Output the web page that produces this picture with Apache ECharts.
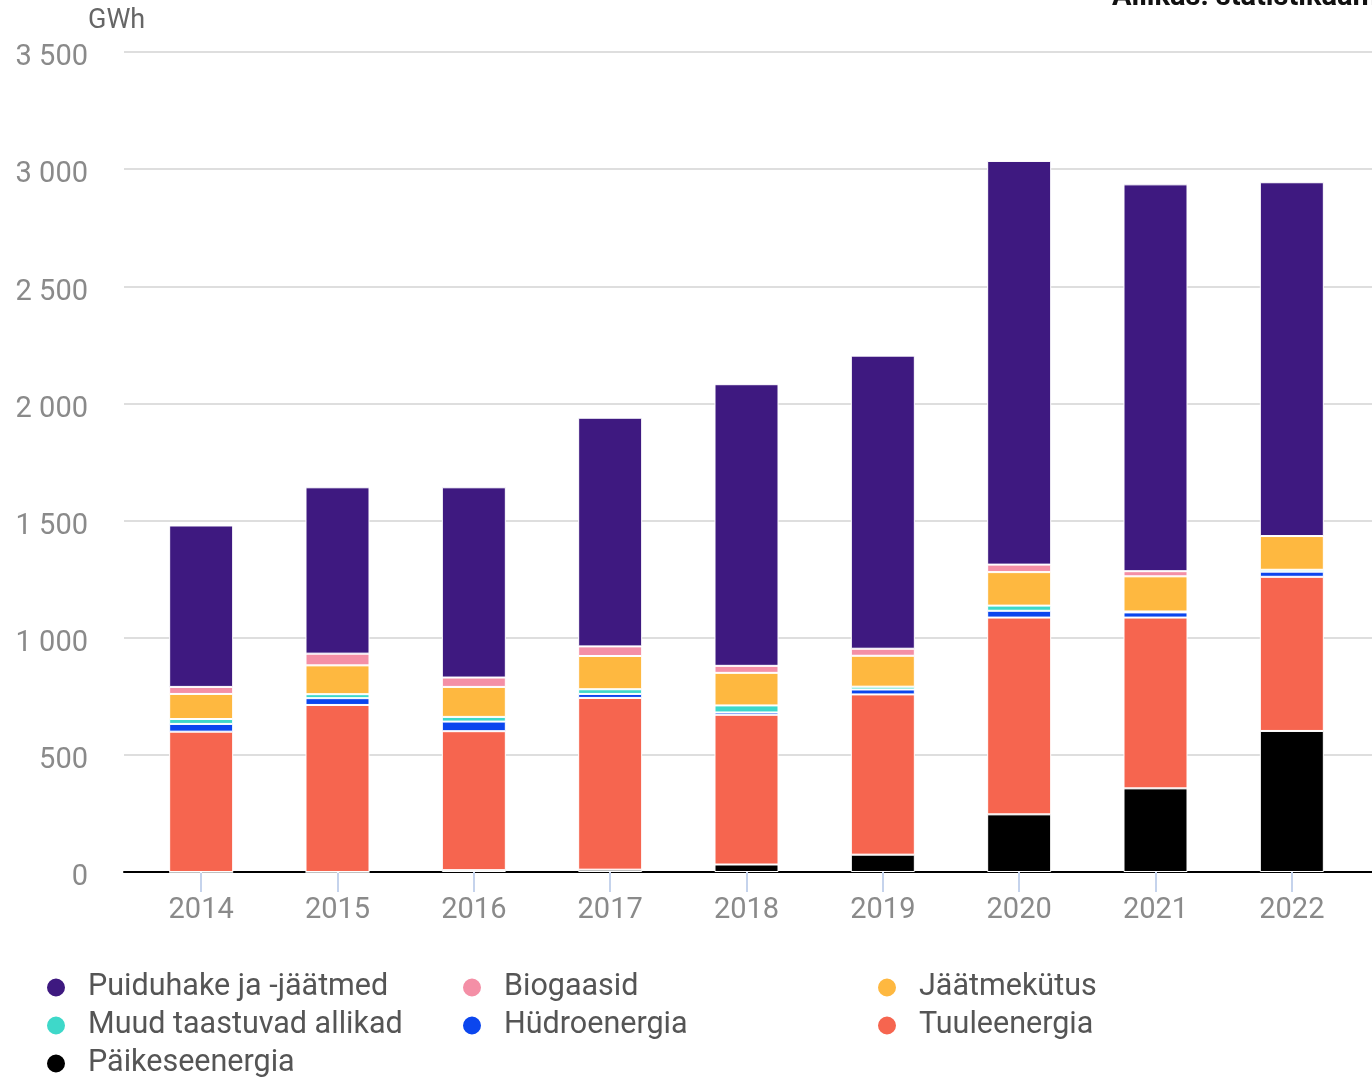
<!DOCTYPE html>
<html>
<head>
<meta charset="utf-8">
<script src="https://cdn.jsdelivr.net/npm/echarts@6/dist/echarts.min.js"></script>
<style>
  html, body { margin: 0; padding: 0; background: #fff; }
  #chart { width: 1372px; height: 1078px; }
</style>
</head>
<body>
<div id="chart"></div>
<script>
const years = ['2014', '2015', '2016', '2017', '2018', '2019', '2020', '2021', '2022'];
const paikeseenergia = [0, 0, 8, 10, 32, 74, 246, 357, 602];
const tuuleenergia = [599, 713, 593, 733, 639, 684, 840, 729, 658];
const hudroenergia = [33, 29, 41, 17, 10, 21, 29, 22, 22];
const muudTaastuvad = [21, 17, 20, 20, 30, 12, 22, 4, 8];
const jaatmekutus = [107, 123, 128, 142, 139, 132, 143, 150, 144];
const biogaasid = [30, 50, 40, 41, 30, 30, 32, 22, 0];
const puiduhake = [689, 710, 812, 976, 1202, 1251, 1723, 1651, 1510];
const yTicks = [0, 500, 1000, 1500, 2000, 2500, 3000, 3500];

const FONT = 'Roboto, "Noto Sans", sans-serif';
const chart = echarts.init(document.getElementById('chart'));

const seriesDefs = [
  { name: 'Päikeseenergia', data: paikeseenergia, color: '#000000' },
  { name: 'Tuuleenergia', data: tuuleenergia, color: '#f6654f' },
  { name: 'Hüdroenergia', data: hudroenergia, color: '#0b46ee' },
  { name: 'Muud taastuvad allikad', data: muudTaastuvad, color: '#3ed8c9' },
  { name: 'Jäätmekütus', data: jaatmekutus, color: '#feb840' },
  { name: 'Biogaasid', data: biogaasid, color: '#f48fa6' },
  { name: 'Puiduhake ja -jäätmed', data: puiduhake, color: '#3e1980' }
];

// legend grid: 3 columns, rows top-to-bottom
const legendOrder = [
  'Puiduhake ja -jäätmed', 'Biogaasid', 'Jäätmekütus',
  'Muud taastuvad allikad', 'Hüdroenergia', 'Tuuleenergia',
  'Päikeseenergia'
];
const colLeft = [45, 461, 876];
const rowTop = [972, 1010, 1048];

const legends = legendOrder.map((name, i) => ({
  orient: 'vertical',
  left: colLeft[i % 3],
  top: rowTop[Math.floor(i / 3)],
  padding: 0,
  icon: 'circle',
  itemWidth: 54,
  itemHeight: 20,
  selectedMode: false,
  data: [name],
  textStyle: { fontFamily: FONT, fontSize: 30.5, color: '#555555', lineHeight: 30 }
}));

chart.setOption({
  animation: false,
  backgroundColor: '#ffffff',
  textStyle: { fontFamily: FONT },
  grid: [
    { left: 124, right: 0, top: 52, bottom: 206 },
    { left: 133, right: 12, top: 52, bottom: 206 }
  ],
  xAxis: [
    {
      gridIndex: 0, type: 'value', min: 0, max: 1,
      axisLine: { show: true, onZero: false, lineStyle: { color: '#000000', width: 2 } },
      axisTick: { show: false }, axisLabel: { show: false }, splitLine: { show: false }
    },
    {
      gridIndex: 1, type: 'category', data: years,
      axisLine: { show: false },
      axisTick: { show: true, alignWithLabel: true, length: 20, lineStyle: { color: '#c5d3ec', width: 2 } },
      axisLabel: { margin: 24, fontSize: 29, color: '#8a8a8a', fontFamily: FONT },
      splitLine: { show: false }
    }
  ],
  yAxis: [
    {
      gridIndex: 0, type: 'value', min: 0, max: 3500, interval: 500,
      axisLine: { show: false }, axisTick: { show: false },
      axisLabel: {
        margin: 36, fontSize: 29, color: '#8a8a8a', fontFamily: FONT,
        verticalAlign: 'top', lineHeight: 6, padding: [3, 0, 0, 0],
        formatter: v => yTicks.includes(v) ? String(v).replace(/\B(?=(\d{3})+(?!\d))/g, ' ') : ''
      },
      splitLine: { show: true, lineStyle: { color: '#dedede', width: 2 } }
    },
    {
      gridIndex: 1, type: 'value', min: 0, max: 3500, interval: 500,
      show: false, splitLine: { show: false }
    }
  ],
  legend: legends,
  graphic: [
    { type: 'text', left: 88, top: 8, style: { text: 'GWh', fontSize: 27, fill: '#666666', fontFamily: FONT } },
    { type: 'text', left: 1112, top: -17, style: { text: 'Allikas: statistikaamet', fontSize: 29, fontWeight: 'bold', fill: '#111111', fontFamily: FONT } }
  ],
  series: seriesDefs.map(s => ({
    name: s.name,
    type: 'bar',
    stack: 'total',
    xAxisIndex: 1,
    yAxisIndex: 1,
    barWidth: 64,
    data: s.data,
    itemStyle: { color: s.color, borderColor: '#ffffff', borderWidth: 1 },
    emphasis: { disabled: true }
  }))
});
</script>
</body>
</html>
